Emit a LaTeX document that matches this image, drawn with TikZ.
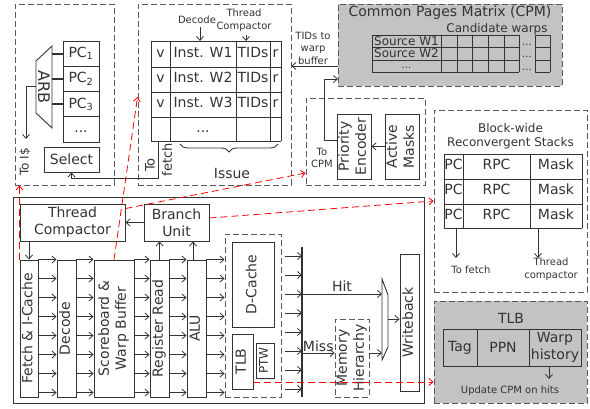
\documentclass[tikz,border=0pt]{standalone}
\usepackage{fontspec}
\setmainfont{DejaVu Sans}
\usepackage{graphicx}
\usetikzlibrary{arrows.meta,decorations.pathreplacing}
\definecolor{ink}{HTML}{333333}
\definecolor{shade}{HTML}{C3C3C3}
\tikzset{
	every node/.style={text=ink, font=\fontsize{14}{17}\selectfont},
	small/.style={font=\fontsize{10}{12.5}\selectfont},
	mid/.style={font=\fontsize{12}{14}\selectfont},
	box/.style={draw=ink, line width=0.9pt, inner sep=0pt},
	grp/.style={draw=black!65, line width=0.9pt, dash pattern=on 6pt off 3pt},
	cell/.style={draw=ink, line width=0.9pt},
	tcell/.style={text height=10pt, text depth=3pt, inner sep=0pt},
	arr/.style={draw=ink, line width=0.8pt, -{Straight Barb[length=4pt,width=7pt]}},
	redarr/.style={draw=red, line width=0.8pt, dash pattern=on 7pt off 4pt, -{Straight Barb[length=4pt,width=7pt]}},
}
\newcommand{\vtext}[1]{\rotatebox{90}{\begin{tabular}{@{}c@{}}#1\end{tabular}}}
\begin{document}
\begin{tikzpicture}[x=1pt,y=-1pt]
	\useasboundingbox (0,0) rectangle (590,409);
	\node[grp, minimum width=99, minimum height=181] (fgrp) at (64.5,94.5) {};
	\node[grp, minimum width=153, minimum height=181] (igrp) at (214.5,94.5) {};
	\node[grp, fill=shade, minimum width=224, minimum height=82] (cpm) at (450,45) {};
	\node[grp, minimum width=119, minimum height=87] (pgrp) at (365.5,141.5) {};
	\node[grp, minimum width=153, minimum height=182] (sgrp) at (510.5,201) {};
	\node[grp, fill=shade, minimum width=153, minimum height=102] (tgrp) at (510.5,352) {};
	\node[box, line width=0.8pt, minimum width=411, minimum height=206] (core) at (218.5,300) {};

	\foreach \i in {1,...,3} \node[box, minimum width=36, minimum height=25.25] (pc\i) at (81,28.4+25.25*\i) {PC\textsubscript{\i}};
	\node[box, tcell, minimum width=36, minimum height=25.25] (pc4) at (81,129.4) {...};
	\draw[cell] (36,61) -- (52,46) -- (52,128) -- (36,113) -- cycle;
	\node[rotate=-90, font=\fontsize{16}{16}\selectfont] (arb) at (44,87) {ARB};
	\foreach \i in {1,...,3} \draw[ink, line width=2pt] (pc\i.west) -- ++(-11,0);
	\coordinate (arbo) at (36,86);
	\draw[arr] (arbo) -- ++(-10,0) -- ++(0,53);
	\node[mid, rotate=90] (toi) at (25,162) {To I\$};
	\node[box, minimum width=55, minimum height=25] (sel) at (71.5,159.5) {Select};

	\foreach \y in {41,67,92,117,141} \draw[cell] (151,\y) -- (281,\y);
	\foreach \x in {151,170,236,270,281} \draw[cell] (\x,41) -- (\x,141);
	\foreach \i/\y in {1/54,2/79.5,3/104.5} {
		\node[tcell] (v\i) at (160.5,\y) {v};
		\node[tcell] (w\i) at (203,\y) {Inst. W\i};
		\node[tcell] (t\i) at (253,\y) {TIDs};
		\node[tcell] (r\i) at (275.5,\y) {r};
	}
	\node[tcell] (wdots) at (203,129) {...};
	\node[small] (dec) at (197,20) {Decode};
	\node[small, align=center] (tcl) at (244,20) {Thread\\Compactor};
	\coordinate (instc) at (200,41);
	\coordinate (tidc) at (246,41);
	\draw[arr] (dec.south -| instc) -- (instc);
	\draw[arr] (tcl.south -| tidc) -- (tidc);
	\draw[ink, line width=0.9pt, decorate, decoration={brace, mirror, amplitude=8pt}] (180,144) -- (278,144);
	\node (iss) at (232,173) {Issue};
	\coordinate (vfoot) at (158,141);
	\draw[arr] (vfoot) -- ++(0,37) -| (sel.south);
	\node[font=\fontsize{13}{13}\selectfont, rotate=90] (to1) at (150,165) {To};
	\node[font=\fontsize{13}{13}\selectfont, rotate=90] (to2) at (167,160) {fetch};

	\node (cpmt) at (450,13) {Common Pages Matrix (CPM)};
	\node[mid] (cand) at (497,29) {Candidate warps};
	\foreach \y in {35,47,60,72} \draw[cell] (372,\y) -- (519,\y) (535,\y) -- (550,\y);
	\foreach \x in {372,441,457,472,488,504,519,535,550} \draw[cell] (\x,35) -- (\x,72);
	\node[mid] (src1) at (406.5,41) {Source W1};
	\node[mid] (src2) at (406.5,53.5) {Source W2};
	\node[small] (srcd) at (406.5,68) {...};
	\foreach \i/\y in {1/45,2/57,3/70} \node[small] (cd\i) at (527,\y) {...};
	\node[small, align=center] (tids) at (313,48) {TIDs to\\warp\\buffer};
	\coordinate (cpmo) at (338,66);
	\draw[arr] (cpmo) -- (cpmo -| igrp.east);

	\node[box, minimum width=33, minimum height=65] (penc) at (354,146.5) {\vtext{Priority\\Encoder}};
	\node[box, minimum width=32, minimum height=65] (amask) at (402,146.5) {\vtext{Active\\Masks}};
	\draw[arr] (amask.west) -- (penc.east);
	\coordinate (cpmi) at (338,79);
	\draw[arr] ([yshift=6.5pt]penc.west) -- ++(-12,0) |- (cpmi);
	\node[small, align=center] (tocpm) at (322,158) {To\\CPM};

	\node[mid, align=center] (stt) at (510.5,136) {Block-wide\\Reconvergent Stacks};
	\foreach \y in {154,179,204,228} \draw[cell] (444,\y) -- (582,\y);
	\foreach \x in {444,463,530,582} \draw[cell] (\x,154) -- (\x,228);
	\foreach \i/\y in {1/166.5,2/191.5,3/216} {
		\node[tcell] (spc\i) at (453.5,\y) {PC};
		\node[tcell] (rpc\i) at (496.5,\y) {RPC};
		\node[tcell] (msk\i) at (556,\y) {Mask};
	}
	\coordinate (sf) at (456,228);
	\coordinate (st) at (538,228);
	\draw[arr] (sf) -- ++(0,30);
	\draw[arr] (st) -- ++(0,30);
	\node[small] (tofe) at (471,270) {To fetch};
	\node[small, align=center] (thc) at (551,269) {Thread\\compactor};

	\node (tlbt) at (511,318) {TLB};
	\draw[cell] (443,329) rectangle (581,366) (477,329) -- (477,366) (529,329) -- (529,366);
	\node (tag) at (460,347.5) {Tag};
	\node (ppn) at (503,347.5) {PPN};
	\node[align=center] (whist) at (555,347.5) {Warp\\history};
	\coordinate (wh) at (549,366);
	\draw[arr] (wh) -- ++(0,13);
	\node[small] (upd) at (510,391) {Update CPM on hits};

	\node[box, minimum width=105, minimum height=37, align=center] (tc) at (72.5,222.5) {Thread\\Compactor};
	\node[box, minimum width=65, minimum height=37, align=center] (bu) at (176.5,222.5) {Branch\\Unit};
	\draw[arr] (bu.west) -- (tc.east);
	\node[box, minimum width=18, minimum height=137] (fetch) at (29,328.5) {\vtext{Fetch \& I-Cache}};
	\node[box, minimum width=19, minimum height=137] (decode) at (66.5,328.5) {\vtext{Decode}};
	\node[box, minimum width=40, minimum height=137] (sb) at (114,328.5) {\vtext{Scoreboard \&\\Warp Buffer}};
	\node[box, minimum width=19, minimum height=137] (rr) at (159.5,328.5) {\vtext{Register Read}};
	\node[box, minimum width=19, minimum height=137] (alu) at (196.5,328.5) {\vtext{ALU}};
	\draw[arr] (tc.south -| fetch.north) -- (fetch.north);
	\draw[arr] (rr.north) -- (rr.north |- bu.south);
	\draw[arr] ([xshift=-3.5pt]alu.north) -- ([xshift=-3.5pt]alu.north |- bu.south);
	\node[grp, minimum width=56, minimum height=163] (dgrp) at (253,315.5) {};
	\foreach \a/\b in {fetch/decode,decode/sb,sb/rr,rr/alu,alu/dgrp}
		\foreach \i in {0,...,7} {
			\path (\a.north east) ++(0,19*\i) coordinate (p);
			\draw[arr] (p) -- (p -| \b.west);
		}
	\node[box, minimum width=42, minimum height=85] (dc) at (253,284.5) {\vtext{D-Cache}};
	\node[box, minimum width=21, minimum height=55] (tlb) at (242.5,361.5) {\vtext{TLB}};
	\node[box, mid, minimum width=18, minimum height=35] (ptw) at (265,360.5) {\vtext{PTW}};

	\coordinate (bt) at (302,247);
	\coordinate (bb) at (302,397);
	\draw[ink, line width=1.8pt] (bt) -- (bb);
	\foreach \i in {0,...,7} {
		\coordinate (q) at (285,256+19*\i);
		\draw[arr] (q) -- (q -| bt);
	}
	\node[grp, inner sep=0pt, minimum width=34, minimum height=78] (mh) at (352,358) {\vtext{Memory\\Hierarchy}};
	\node[box, minimum width=19, minimum height=137] (wb) at (409.5,322.5) {\vtext{Writeback}};
	\coordinate (m1) at (382,279);
	\coordinate (m2) at (388,295);
	\coordinate (m3) at (388,347);
	\coordinate (m4) at (382,360);
	\draw[cell] (m1) -- (m2) -- (m3) -- (m4) -- cycle;
	\coordinate (hit) at (302,294);
	\coordinate (miss) at (302,353);
	\draw[arr] (hit) -- node[above, inner sep=2pt] (hitl) {Hit} (hit -| m1);
	\draw[arr] (miss) -- node[above, inner sep=1pt] (missl) {Miss} (miss -| mh.west);
	\draw[arr] (mh.east |- miss) -- (miss -| m1);
	\coordinate (mo) at (388,319);
	\draw[arr] (mo) -- (mo -| wb.west);

	\coordinate (tr) at (253,382);
	\draw[redarr] (tr) -- (tr -| tgrp.west);
	\draw[redarr] ([yshift=4.5pt]bu.east) -- (sgrp.west);
	\draw[redarr] ([yshift=-5pt]tc.north east) -- ([yshift=-31.5pt]pgrp.west);
	\draw[redarr] (sb.north) -- ([yshift=-2.5pt]igrp.west);
	\draw[redarr] (fetch.north west) -- (fetch.north west |- fgrp.south);
\end{tikzpicture}
\end{document}
